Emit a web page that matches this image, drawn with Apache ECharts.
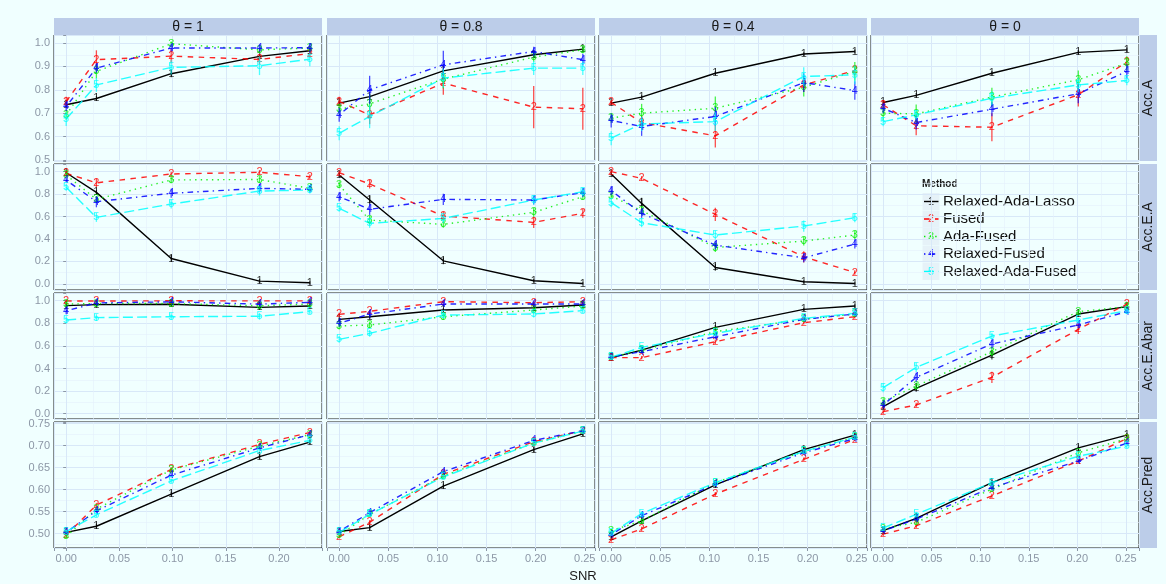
<!DOCTYPE html>
<html><head><meta charset="utf-8">
<script src="https://cdn.jsdelivr.net/npm/echarts@6/dist/echarts.min.js"></script>
<style>html,body{margin:0;padding:0;background:#F0FFFF;}#c{width:1166px;height:584px;}</style>
</head><body><div id="c"></div>
<script>
// ---------- data ----------
const methods = ['Relaxed-Ada-Lasso', 'Fused', 'Ada-Fused', 'Relaxed-Fused', 'Relaxed-Ada-Fused'];
const thetaLabels = ['\u03b8 = 1', '\u03b8 = 0.8', '\u03b8 = 0.4', '\u03b8 = 0'];
const metricLabels = ['Acc.A', 'Acc.E.A', 'Acc.E.Abar', 'Acc.Pred'];

const snr_t1  = [0, 0.0284, 0.0987, 0.1817, 0.229];
const snr_t08 = [0, 0.031, 0.106, 0.198, 0.248];
const snr_t04 = [0, 0.031, 0.106, 0.196, 0.248];
const snr_t0  = [0, 0.034, 0.112, 0.201, 0.251];

// rows: methods in order; cols: SNR points
const accA_t1 = [
  [0.736, 0.763, 0.869, 0.943, 0.967],
  [0.750, 0.929, 0.944, 0.930, 0.955],
  [0.693, 0.879, 0.997, 0.971, 0.979],
  [0.729, 0.893, 0.979, 0.979, 0.980],
  [0.675, 0.821, 0.896, 0.903, 0.931]];
const accA_t08 = [
  [0.743, 0.771, 0.881, 0.950, 0.974],
  [0.750, 0.693, 0.829, 0.726, 0.719],
  [0.717, 0.740, 0.846, 0.940, 0.971],
  [0.693, 0.800, 0.907, 0.964, 0.929],
  [0.614, 0.686, 0.850, 0.893, 0.893]];
const accA_t04 = [
  [0.743, 0.769, 0.871, 0.953, 0.964],
  [0.746, 0.660, 0.603, 0.821, 0.883],
  [0.679, 0.700, 0.721, 0.811, 0.879],
  [0.669, 0.643, 0.686, 0.831, 0.797],
  [0.593, 0.654, 0.664, 0.857, 0.864]];
const accA_t0 = [
  [0.746, 0.776, 0.871, 0.960, 0.971],
  [0.736, 0.646, 0.640, 0.779, 0.920],
  [0.700, 0.697, 0.769, 0.843, 0.914],
  [0.721, 0.660, 0.717, 0.783, 0.879],
  [0.664, 0.693, 0.764, 0.821, 0.840]];

const accEA_t1 = [
  [0.990, 0.815, 0.226, 0.024, 0.009],
  [0.985, 0.900, 0.979, 0.994, 0.955],
  [0.970, 0.753, 0.926, 0.930, 0.851],
  [0.925, 0.732, 0.807, 0.851, 0.842],
  [0.860, 0.592, 0.711, 0.827, 0.836]];
const accEA_t08 = [
  [0.970, 0.747, 0.205, 0.027, 0.003],
  [0.990, 0.890, 0.604, 0.548, 0.628],
  [0.881, 0.568, 0.530, 0.637, 0.777],
  [0.777, 0.664, 0.753, 0.747, 0.813],
  [0.673, 0.539, 0.583, 0.747, 0.821]];
const accEA_t04 = [
  [0.979, 0.717, 0.146, 0.018, 0.003],
  [1.000, 0.940, 0.619, 0.241, 0.101],
  [0.783, 0.652, 0.324, 0.381, 0.435],
  [0.830, 0.628, 0.345, 0.232, 0.354],
  [0.723, 0.545, 0.435, 0.515, 0.589]];
const accEA_t0 = [];

const accEAbar_t1 = [
  [0.956, 0.965, 0.968, 0.941, 0.953],
  [0.998, 0.997, 0.999, 0.998, 0.998],
  [0.970, 0.975, 0.975, 0.955, 0.970],
  [0.910, 0.980, 0.990, 0.970, 0.985],
  [0.829, 0.850, 0.858, 0.862, 0.903]];
const accEAbar_t08 = [
  [0.835, 0.858, 0.917, 0.938, 0.962],
  [0.879, 0.906, 0.991, 0.982, 0.991],
  [0.776, 0.785, 0.858, 0.917, 0.953],
  [0.800, 0.882, 0.970, 0.970, 0.970],
  [0.658, 0.711, 0.873, 0.882, 0.912]];
const accEAbar_t04 = [
  [0.496, 0.563, 0.764, 0.923, 0.953],
  [0.496, 0.496, 0.637, 0.805, 0.858],
  [0.500, 0.560, 0.726, 0.835, 0.882],
  [0.500, 0.549, 0.681, 0.835, 0.882],
  [0.500, 0.587, 0.711, 0.844, 0.888]];
const accEAbar_t0 = [
  [0.062, 0.224, 0.519, 0.882, 0.947],
  [0.018, 0.077, 0.322, 0.746, 0.970],
  [0.106, 0.245, 0.549, 0.903, 0.947],
  [0.077, 0.322, 0.617, 0.785, 0.903],
  [0.230, 0.410, 0.687, 0.829, 0.912]];

const accPred_t1 = [
  [0.503, 0.517, 0.590, 0.675, 0.708],
  [0.497, 0.565, 0.646, 0.703, 0.730],
  [0.494, 0.556, 0.645, 0.699, 0.725],
  [0.503, 0.552, 0.633, 0.695, 0.725],
  [0.505, 0.543, 0.620, 0.689, 0.712]];
const accPred_t08 = [
  [0.505, 0.514, 0.608, 0.691, 0.727],
  [0.493, 0.526, 0.635, 0.709, 0.734],
  [0.497, 0.544, 0.631, 0.706, 0.733],
  [0.505, 0.548, 0.641, 0.712, 0.734],
  [0.503, 0.544, 0.629, 0.706, 0.733]];
const accPred_t04 = [
  [0.493, 0.529, 0.611, 0.691, 0.724],
  [0.486, 0.511, 0.590, 0.669, 0.714],
  [0.507, 0.529, 0.616, 0.687, 0.719],
  [0.498, 0.541, 0.612, 0.684, 0.716],
  [0.501, 0.546, 0.616, 0.687, 0.719]];
const accPred_t0 = [
  [0.507, 0.535, 0.616, 0.695, 0.724],
  [0.499, 0.518, 0.586, 0.665, 0.716],
  [0.511, 0.526, 0.601, 0.684, 0.716],
  [0.507, 0.533, 0.605, 0.665, 0.706],
  [0.513, 0.544, 0.616, 0.676, 0.699]];

// error-bar half widths
const accA_t1_err = [
  [0.010, 0.010, 0.015, 0.010, 0.010],
  [0.020, 0.040, 0.030, 0.020, 0.015],
  [0.020, 0.030, 0.010, 0.010, 0.010],
  [0.020, 0.020, 0.015, 0.015, 0.020],
  [0.030, 0.030, 0.030, 0.040, 0.030]];
const accA_t08_err = [
  [0.010, 0.010, 0.010, 0.010, 0.010],
  [0.020, 0.040, 0.050, 0.090, 0.090],
  [0.020, 0.040, 0.040, 0.020, 0.015],
  [0.030, 0.060, 0.060, 0.020, 0.025],
  [0.030, 0.050, 0.040, 0.030, 0.030]];
const accA_t04_err = [
  [0.008, 0.008, 0.008, 0.008, 0.008],
  [0.010, 0.030, 0.050, 0.030, 0.020],
  [0.020, 0.040, 0.050, 0.040, 0.040],
  [0.030, 0.040, 0.040, 0.040, 0.040],
  [0.030, 0.030, 0.040, 0.040, 0.040]];
const accA_t0_err = [
  [0.010, 0.010, 0.010, 0.010, 0.010],
  [0.020, 0.040, 0.060, 0.050, 0.020],
  [0.030, 0.040, 0.040, 0.040, 0.030],
  [0.020, 0.030, 0.030, 0.040, 0.030],
  [0.020, 0.020, 0.030, 0.030, 0.020]];
const accEA_t1_err = [
  [0.010, 0.020, 0.030, 0.020, 0.015],
  [0.020, 0.040, 0.020, 0.020, 0.020],
  [0.020, 0.030, 0.030, 0.030, 0.020],
  [0.020, 0.050, 0.040, 0.040, 0.030],
  [0.030, 0.040, 0.040, 0.040, 0.030]];
const accEA_t08_err = [
  [0.020, 0.040, 0.030, 0.015, 0.010],
  [0.020, 0.040, 0.040, 0.050, 0.040],
  [0.030, 0.040, 0.030, 0.040, 0.030],
  [0.040, 0.050, 0.050, 0.040, 0.040],
  [0.030, 0.040, 0.040, 0.040, 0.040]];
const accEA_t04_err = [
  [0.010, 0.050, 0.030, 0.015, 0.010],
  [0.020, 0.020, 0.060, 0.050, 0.020],
  [0.030, 0.040, 0.040, 0.040, 0.040],
  [0.040, 0.040, 0.040, 0.040, 0.040],
  [0.040, 0.040, 0.040, 0.050, 0.040]];
const accEA_t0_err = [];
const accEAbar_t1_err = [
  [0.020, 0.020, 0.020, 0.020, 0.015],
  [0.010, 0.010, 0.010, 0.010, 0.010],
  [0.020, 0.020, 0.020, 0.020, 0.020],
  [0.030, 0.020, 0.010, 0.020, 0.020],
  [0.030, 0.030, 0.030, 0.030, 0.020]];
const accEAbar_t08_err = [
  [0.015, 0.015, 0.015, 0.015, 0.015],
  [0.015, 0.015, 0.015, 0.015, 0.015],
  [0.030, 0.030, 0.030, 0.030, 0.020],
  [0.030, 0.030, 0.020, 0.020, 0.020],
  [0.030, 0.030, 0.030, 0.030, 0.020]];
const accEAbar_t04_err = [
  [0.015, 0.015, 0.020, 0.015, 0.015],
  [0.015, 0.015, 0.020, 0.015, 0.015],
  [0.015, 0.015, 0.020, 0.015, 0.015],
  [0.015, 0.015, 0.020, 0.015, 0.015],
  [0.015, 0.015, 0.020, 0.015, 0.015]];
const accEAbar_t0_err = [
  [0.020, 0.030, 0.040, 0.020, 0.020],
  [0.020, 0.020, 0.050, 0.040, 0.020],
  [0.030, 0.030, 0.040, 0.020, 0.020],
  [0.030, 0.040, 0.040, 0.030, 0.020],
  [0.040, 0.040, 0.030, 0.020, 0.020]];
const accPred_t1_err = [
  [0.004, 0.006, 0.006, 0.006, 0.005],
  [0.004, 0.005, 0.005, 0.004, 0.004],
  [0.004, 0.005, 0.005, 0.004, 0.004],
  [0.004, 0.005, 0.005, 0.004, 0.004],
  [0.004, 0.005, 0.005, 0.004, 0.004]];
const accPred_t08_err = accPred_t1_err;
const accPred_t04_err = accPred_t1_err;
const accPred_t0_err = accPred_t1_err;

// ---------- layout / style ----------
const colLeft = [54, 327, 599, 871];
const rowTop = [35, 164, 293, 422];
const panelW = 268, panelH = 126;
const yRange = [[0.4955, 1.0345], [-0.055, 1.068], [-0.047, 1.068], [0.4676, 0.7538]];
const yStep = [0.1, 0.2, 0.2, 0.05];
const yDec = [1, 1, 1, 2];
const colors = ['#000000', '#FF0000', '#00EE00', '#0000FF', '#00FFFF'];
const dashes = ['solid', [5.5, 5.5], [1.4, 4.2], [1.4, 4.2, 5.6, 4.2], [10, 4.2]];
const FONT = '"Liberation Sans", Arial, Helvetica, sans-serif';
const tickGray = '#8C97A6';

const snrCols = [snr_t1, snr_t08, snr_t04, snr_t0];
const values = [
  [accA_t1, accA_t08, accA_t04, accA_t0],
  [accEA_t1, accEA_t08, accEA_t04, accEA_t0],
  [accEAbar_t1, accEAbar_t08, accEAbar_t04, accEAbar_t0],
  [accPred_t1, accPred_t08, accPred_t04, accPred_t0]];
const errors = [
  [accA_t1_err, accA_t08_err, accA_t04_err, accA_t0_err],
  [accEA_t1_err, accEA_t08_err, accEA_t04_err, accEA_t0_err],
  [accEAbar_t1_err, accEAbar_t08_err, accEAbar_t04_err, accEAbar_t0_err],
  [accPred_t1_err, accPred_t08_err, accPred_t04_err, accPred_t0_err]];

function isMult(v, s) { return Math.abs(v / s - Math.round(v / s)) < 1e-6; }

const grids = [], xAxes = [], yAxes = [], series = [], graphics = [];
for (let r = 0; r < 4; r++) {
  for (let c = 0; c < 4; c++) {
    const gi = grids.length;
    grids.push({left: colLeft[c], top: rowTop[r], width: panelW, height: panelH,
      show: true, backgroundColor: '#F0FFFF', borderColor: '#1A1A1A', borderWidth: 1, z: 0});
    const xs = snrCols[c];
    const xmax = xs[xs.length - 1];
    xAxes.push({type: 'value', gridIndex: gi, min: -0.05 * xmax, max: 1.05 * xmax, splitNumber: 5,
      axisLine: {show: false},
      axisTick: {show: r === 3, length: 3, lineStyle: {color: tickGray}},
      axisLabel: {show: r === 3, color: tickGray, fontSize: 11, fontFamily: FONT, margin: 5,
        formatter: v => isMult(v, 0.05) ? v.toFixed(2) : ''},
      splitLine: {show: true, lineStyle: {color: '#D8E8F8', width: 1}},
      minorTick: {show: false, splitNumber: 2},
      minorSplitLine: {show: true, lineStyle: {color: '#E4F0FB', width: 0.6}}
    });
    yAxes.push({type: 'value', gridIndex: gi, min: yRange[r][0], max: yRange[r][1], splitNumber: 5,
      axisLine: {show: false},
      axisTick: {show: c === 0, length: 3, lineStyle: {color: tickGray}},
      axisLabel: {show: c === 0, color: tickGray, fontSize: 11, fontFamily: FONT, margin: 4,
        formatter: v => isMult(v, yStep[r]) ? v.toFixed(yDec[r]) : ''},
      splitLine: {show: true, lineStyle: {color: '#D8E8F8', width: 1}},
      minorTick: {show: false, splitNumber: 2},
      minorSplitLine: {show: true, lineStyle: {color: '#E4F0FB', width: 0.6}}
    });
    const vals = values[r][c], errs = errors[r][c];
    for (let m = 0; m < vals.length; m++) {
      const pts = xs.map((x, i) => [x, vals[m][i], errs[m][i]]);
      series.push({type: 'line', xAxisIndex: gi, yAxisIndex: gi, name: methods[m],
        data: pts.map(p => [p[0], p[1]]), symbol: 'none', showSymbol: false, silent: true,
        lineStyle: {color: colors[m], width: 1.4, type: dashes[m], opacity: m === 0 ? 1 : 0.85}, z: 2});
      series.push({type: 'custom', xAxisIndex: gi, yAxisIndex: gi, name: methods[m], data: pts,
        silent: true, z: 3,
        encode: {x: 0, y: 1},
        renderItem: (params, api) => {
          const x = api.value(0), y = api.value(1), e = api.value(2);
          const p = api.coord([x, y]), lo = api.coord([x, y - e]), hi = api.coord([x, y + e]);
          return {type: 'group', children: [
            {type: 'line', shape: {x1: p[0], y1: lo[1], x2: p[0], y2: hi[1]},
              style: {stroke: colors[m], lineWidth: 1.3, opacity: 0.7}},
            {type: 'text', x: p[0], y: p[1],
              style: {text: String(m + 1), fill: colors[m], font: '11px ' + FONT,
                align: 'center', verticalAlign: 'middle', opacity: 0.8}}
          ]};
        }});
    }
  }
}

// strips
const stripColor = '#BCCDE9';
for (let c = 0; c < 4; c++) {
  graphics.push({type: 'rect', shape: {x: colLeft[c], y: 18, width: panelW, height: 17}, style: {fill: stripColor}});
  graphics.push({type: 'text', x: colLeft[c] + panelW / 2, y: 27,
    style: {text: thetaLabels[c], fill: '#1A1A1A', font: '14px ' + FONT, align: 'center', verticalAlign: 'middle'}});
}
for (let r = 0; r < 4; r++) {
  graphics.push({type: 'rect', shape: {x: 1140, y: rowTop[r], width: 17, height: panelH}, style: {fill: stripColor}});
  graphics.push({type: 'text', x: 1148.5, y: rowTop[r] + panelH / 2, rotation: Math.PI / 2,
    style: {text: metricLabels[r], fill: '#1A1A1A', font: '14px ' + FONT, align: 'center', verticalAlign: 'middle'}});
}
// x title
graphics.push({type: 'text', x: 583, y: 576,
  style: {text: 'SNR', fill: '#1A1A1A', font: '13px ' + FONT, align: 'center', verticalAlign: 'middle'}});

// legend (inside empty panel)
graphics.push({type: 'text', x: 922, y: 184,
  style: {text: 'Method', fill: '#1A1A1A', font: 'bold 10px ' + FONT, align: 'left', verticalAlign: 'middle'}});
for (let m = 0; m < methods.length; m++) {
  const yy = 201.5 + m * 17.5;
  graphics.push({type: 'rect', shape: {x: 922.5, y: yy - 8.5, width: 17, height: 17}, style: {fill: '#E6F2F8'}});
  graphics.push({type: 'line', shape: {x1: 924, y1: yy, x2: 938.5, y2: yy},
    style: {stroke: colors[m], lineWidth: 1.4, lineDash: m === 0 ? null : dashes[m]}});
  graphics.push({type: 'text', x: 931, y: yy,
    style: {text: String(m + 1), fill: colors[m], font: '11px ' + FONT, align: 'center', verticalAlign: 'middle', opacity: 0.8}});
  graphics.push({type: 'text', x: 943, y: yy,
    style: {text: methods[m], fill: '#111111', font: '15px ' + FONT, align: 'left', verticalAlign: 'middle'}});
}

const chart = echarts.init(document.getElementById('c'), null, {renderer: 'canvas'});
chart.setOption({
  backgroundColor: '#F0FFFF',
  animation: false,
  grid: grids, xAxis: xAxes, yAxis: yAxes, series: series,
  graphic: {elements: graphics}
});
</script></body></html>
